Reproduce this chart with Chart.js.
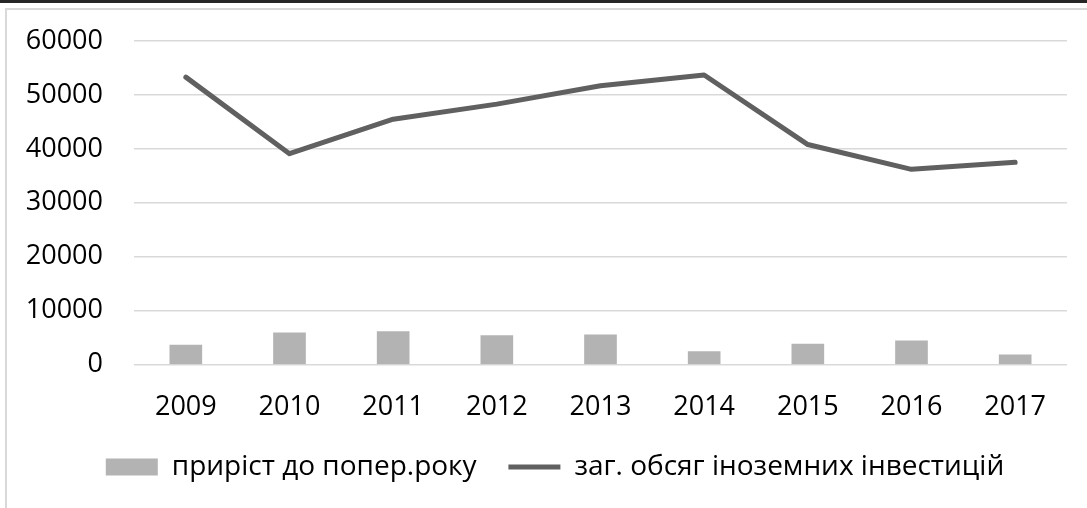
<!DOCTYPE html>
<html>
<head>
<meta charset="utf-8">
<script src="https://cdn.jsdelivr.net/npm/chart.js@4/dist/chart.umd.min.js"></script>
<style>
  html, body { margin: 0; padding: 0; background: #fff; }
  #wrap { position: relative; width: 1087px; height: 508px; overflow: hidden; }
  #topBar { position: absolute; left: 0; top: 0; width: 1087px; height: 3px; background: #262626; }
  #frame { position: absolute; left: 5px; top: 8px; width: 1100px; height: 520px;
           border-top: 2px solid #d9d9d9; border-left: 2px solid #d9d9d9; }
  #graf { position: absolute; left: 0; top: 0; }
</style>
</head>
<body>
<div id="wrap">
  <div id="topBar"></div>
  <div id="frame"></div>
  <canvas id="graf" width="1087" height="508"></canvas>
</div>
<script>
const roki = ["2009", "2010", "2011", "2012", "2013", "2014", "2015", "2016", "2017"];
const pryrist = [3600, 5900, 6100, 5400, 5500, 2400, 3800, 4400, 1800];
const obsyag = [53300, 39100, 45500, 48300, 51700, 53700, 40800, 36200, 37500];
const yTicks = [0, 10000, 20000, 30000, 40000, 50000, 60000];

const shrift = "'Open Sans', 'DejaVu Sans', sans-serif";

// legenda v originali trohy pravishe za centr
const sdvigLegendy = {
  id: "sdvigLegendy",
  afterLayout(chart) {
    chart.legend.left += 11;
    chart.legend.right += 11;
  }
};

const ctx = document.getElementById("graf").getContext("2d");
const grafik = new Chart(ctx, {
  data: {
    labels: roki,
    datasets: [
      {
        type: "line",
        label: "заг. обсяг іноземних інвестицій",
        data: obsyag,
        borderColor: "#606060",
        backgroundColor: "#606060",
        borderWidth: 5,
        borderCapStyle: "round",
        borderJoinStyle: "round",
        pointRadius: 0,
        pointStyle: "line",
        tension: 0,
        order: 1
      },
      {
        type: "bar",
        label: "приріст до попер.року",
        data: pryrist,
        backgroundColor: "#b3b3b3",
        borderWidth: 0,
        barThickness: 32,
        pointStyle: "rect",
        order: 2
      }
    ]
  },
  plugins: [sdvigLegendy],
  options: {
    responsive: false,
    animation: false,
    layout: { padding: { left: 21, right: 20, top: 41, bottom: 17 } },
    plugins: {
      tooltip: { enabled: false },
      legend: {
        position: "bottom",
        reverse: true,
        labels: {
          usePointStyle: true,
          pointStyleWidth: 52,
          boxHeight: 17,
          padding: 10,
          color: "#000",
          font: { family: shrift, size: 28 },
          // trailing spaces only widen the gap between the two items
          generateLabels: (chart) => {
            const items = Chart.defaults.plugins.legend.labels.generateLabels(chart);
            items.forEach(it => { if (it.datasetIndex === 1) it.text = it.text + "   "; });
            return items;
          }
        }
      }
    },
    scales: {
      x: {
        grid: { display: false },
        border: { display: false },
        ticks: { color: "#000", padding: 19, font: { family: shrift, size: 27 } }
      },
      y: {
        min: 0,
        max: 60000,
        afterBuildTicks: (axis) => { axis.ticks = yTicks.map(v => ({ value: v })); },
        afterFit: (axis) => {
          axis.width = 113;
          axis.paddingTop = 0;
          axis.paddingBottom = 0;
        },
        grid: { color: "#d9d9d9", lineWidth: 1.5, drawTicks: false },
        border: { display: false },
        ticks: {
          color: "#000",
          padding: 31,
          font: { family: shrift, size: 27 },
          callback: (v) => String(v)
        }
      }
    }
  }
});
</script>
</body>
</html>
